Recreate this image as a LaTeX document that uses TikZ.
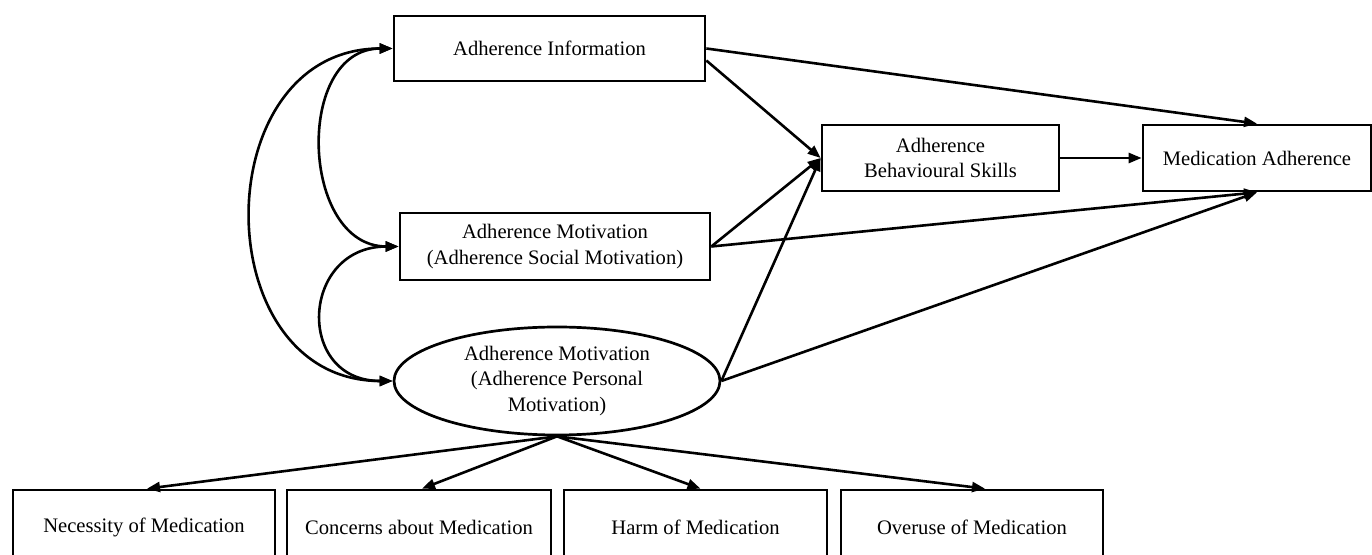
\documentclass[tikz,border=0pt]{standalone}
\usepackage{fontspec}
\setmainfont{Liberation Serif}
\usetikzlibrary{arrows.meta,shapes.geometric}

\begin{document}
\begin{tikzpicture}[x=0.5pt,y=-0.5pt,
  font=\fontsize{10.3}{12.8}\selectfont,
  box/.style={draw=black,line width=1.35pt,align=center,inner sep=0pt,minimum height=33pt},
  oval/.style={ellipse,draw=black,line width=1.35pt,align=center,inner sep=0pt,minimum width=163pt,minimum height=54pt},
  link/.style={black,line width=1.3pt,-{Triangle[length=6.5pt,width=5pt]}},
  covar/.style={black,line width=1.3pt,{Triangle[length=6.5pt,width=5pt]}-{Triangle[length=6.5pt,width=5pt]}}]
\useasboundingbox (0,0) rectangle (1372,555);
\clip (0,0) rectangle (1372,555);
\node[box,minimum width=155.5pt,minimum height=32.5pt] (info) at (549.5,48.5) {Adherence Information};
\node[box,minimum width=155pt,minimum height=33.5pt] (social) at (555,246.5) {Adherence Motivation\\(Adherence Social Motivation)};
\node[oval] (personal) at (557,381) {Adherence Motivation\\(Adherence Personal\\Motivation)};
\node[box,minimum width=118.5pt] (skills) at (940.5,158) {Adherence\\Behavioural Skills};
\node[box,minimum width=114pt] (adherence) at (1257,158) {Medication Adherence};
\node[box,minimum width=131pt,minimum height=37pt] (necessity) at (144,527) {Necessity of Medication};
\node[box,minimum width=132pt,minimum height=37pt] (concerns) at (419,527) {Concerns about Medication};
\node[box,minimum width=131.5pt,minimum height=37pt] (harm) at (695.5,527) {Harm of Medication};
\node[box,minimum width=131pt,minimum height=37pt] (overuse) at (972,527) {Overuse of Medication};
\draw[covar] (info.west) to[out=180,in=180,looseness=1.27] (social.west);
\draw[covar] (social.west) to[out=180,in=180,looseness=1.86] (personal.west);
\draw[covar] (info.west) to[out=180,in=180,looseness=1.45] (personal.west);
\draw[link] (info.east) -- (adherence.north);
\draw[link] ([yshift=-6pt]info.east) -- (skills.west);
\draw[link] (social.east) -- (skills.west);
\draw[link] (social.east) -- (adherence.south);
\draw[link] (personal.east) -- (skills.west);
\draw[link] (personal.east) -- (adherence.south);
\draw[link] (skills.east) -- (adherence.west);
\draw[link] (personal.south) -- ([xshift=1.5pt]necessity.north);
\draw[link] (personal.south) -- ([xshift=1.5pt]concerns.north);
\draw[link] (personal.south) -- ([xshift=2.5pt]harm.north);
\draw[link] (personal.south) -- ([xshift=6.5pt]overuse.north);
\end{tikzpicture}
\end{document}
